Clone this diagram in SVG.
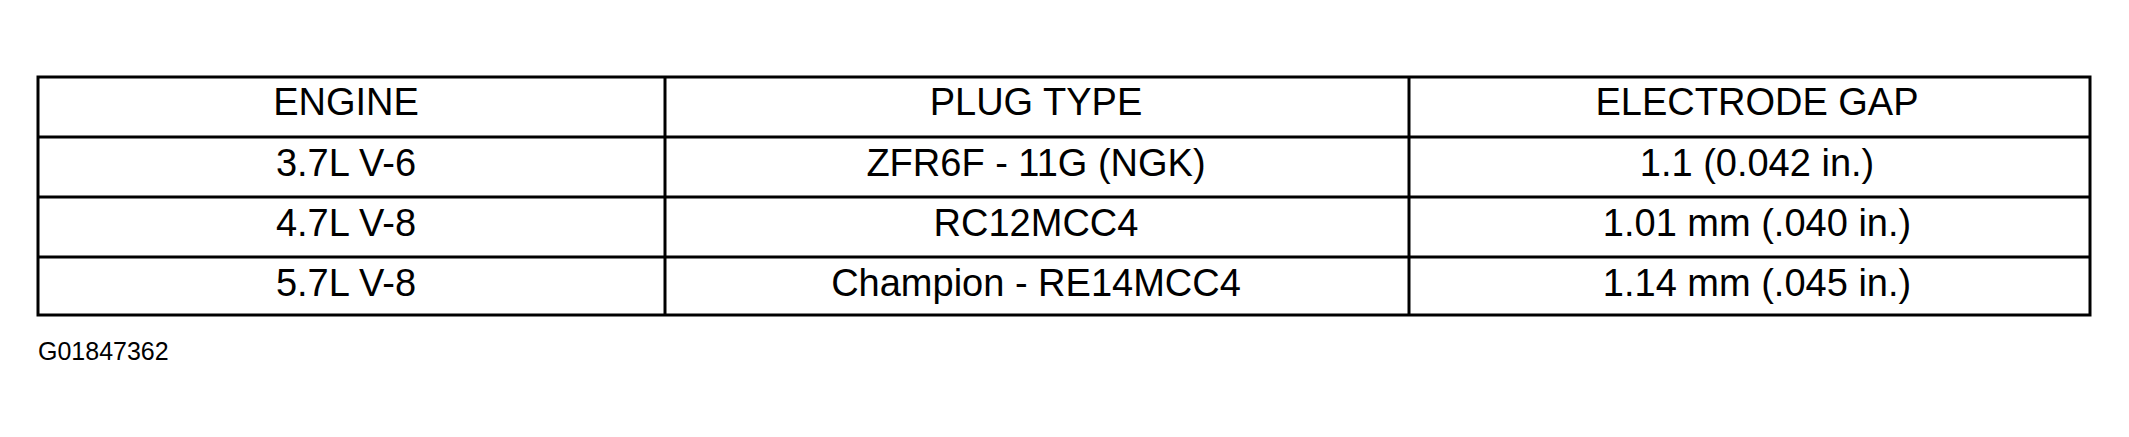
<svg xmlns="http://www.w3.org/2000/svg" width="2129" height="437" viewBox="0 0 2129 437">
<style>
.t{font-family:"Liberation Sans",Arial,sans-serif;font-size:38px;fill:#000;text-anchor:middle}
.f{font-family:"Liberation Sans",Arial,sans-serif;font-size:25px;fill:#000}
.l{stroke:#000;stroke-width:3;fill:none}
</style>
<rect width="2129" height="437" fill="#fff"/>
<g id="table">
<rect class="l" x="38" y="77" width="2052" height="238"/>
<line class="l" x1="38" y1="137" x2="2090" y2="137"/>
<line class="l" x1="38" y1="197" x2="2090" y2="197"/>
<line class="l" x1="38" y1="257" x2="2090" y2="257"/>
<line class="l" x1="665" y1="77" x2="665" y2="315"/>
<line class="l" x1="1409" y1="77" x2="1409" y2="315"/>
</g>
<g id="col1">
<text class="t" x="346" y="115">ENGINE</text>
<text class="t" x="346" y="176">3.7L V-6</text>
<text class="t" x="346" y="236">4.7L V-8</text>
<text class="t" x="346" y="296">5.7L V-8</text>
</g>
<g id="col2">
<text class="t" x="1036" y="115">PLUG TYPE</text>
<text class="t" x="1036" y="176">ZFR6F - 11G (NGK)</text>
<text class="t" x="1036" y="236">RC12MCC4</text>
<text class="t" x="1036" y="296">Champion - RE14MCC4</text>
</g>
<g id="col3">
<text class="t" x="1757" y="115">ELECTRODE GAP</text>
<text class="t" x="1757" y="176">1.1 (0.042 in.)</text>
<text class="t" x="1757" y="236">1.01 mm (.040 in.)</text>
<text class="t" x="1757" y="296">1.14 mm (.045 in.)</text>
</g>
<text class="f" x="38" y="360">G01847362</text>
</svg>
